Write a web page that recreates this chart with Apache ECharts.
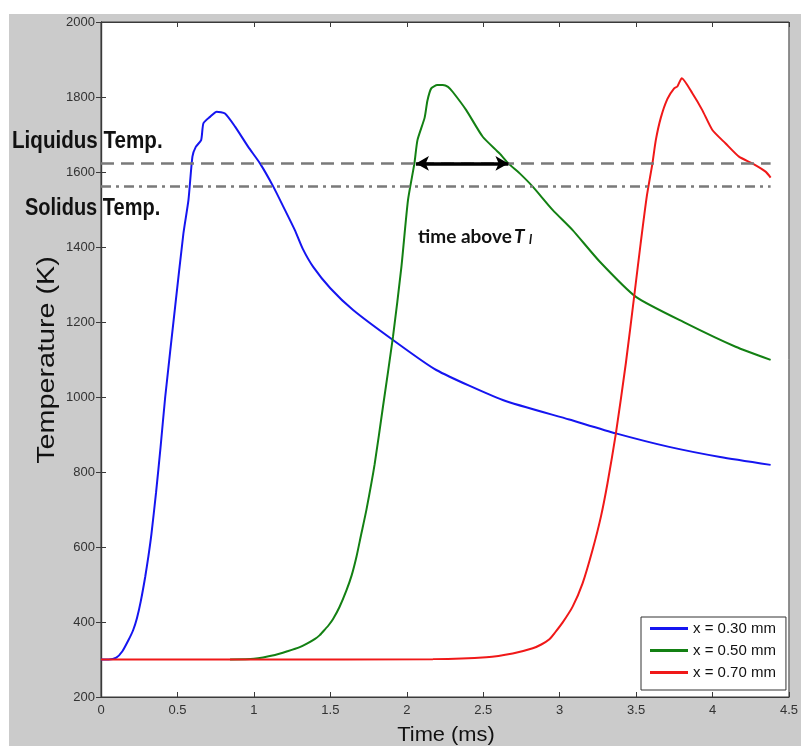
<!DOCTYPE html>
<html>
<head>
<meta charset="utf-8">
<script src="https://cdn.jsdelivr.net/npm/echarts@6/dist/echarts.min.js"></script>
<style>
html,body{margin:0;padding:0;background:#fff;}
#chart{width:801px;height:746px;}
</style>
</head>
<body>
<div id="chart"></div>
<script>
// ---- data ----
const seriesNames = ['x = 0.30 mm', 'x = 0.50 mm', 'x = 0.70 mm'];

const blueTime = [0, 0.05, 0.10, 0.14, 0.18, 0.21, 0.235, 0.26, 0.289, 0.31, 0.33, 0.36, 0.39, 0.42, 0.485, 0.539, 0.572, 0.598, 0.620, 0.655, 0.670, 0.713, 0.757, 0.811, 0.877, 0.963, 1.040, 1.127, 1.203, 1.268, 1.32, 1.388, 1.50, 1.649, 1.910, 2.193, 2.628, 3.063, 3.368, 3.716, 4.05, 4.38];
const blueTemp = [300, 300, 305, 322, 352, 378, 410, 455, 520, 575, 635, 745, 868, 1000, 1241, 1436, 1525, 1641, 1667, 1685, 1730, 1747, 1761, 1756, 1721, 1667, 1623, 1561, 1499, 1445, 1395, 1347, 1290, 1232, 1152, 1072, 992, 940, 903, 867, 840, 819];

const greenTime = [0.844, 1.0, 1.138, 1.22, 1.30, 1.35, 1.40, 1.431, 1.46, 1.49, 1.518, 1.56, 1.606, 1.64, 1.671, 1.70, 1.736, 1.79, 1.845, 1.910, 1.965, 2.008, 2.05, 2.07, 2.117, 2.135, 2.16, 2.20, 2.236, 2.27, 2.30, 2.389, 2.497, 2.606, 2.665, 2.737, 2.824, 2.954, 3.085, 3.26, 3.499, 3.825, 4.151, 4.38];
const greenTemp = [300, 302, 312, 322, 333, 343, 355, 365, 378, 392, 408, 440, 485, 525, 574, 630, 699, 821, 976, 1161, 1347, 1525, 1623, 1685, 1745, 1790, 1823, 1832, 1832, 1827, 1814, 1765, 1694, 1650, 1623, 1597, 1561, 1499, 1445, 1362, 1267, 1197, 1134, 1099];

const redTime = [0, 1.0, 2.171, 2.52, 2.693, 2.824, 2.88, 2.933, 2.97, 3.02, 3.085, 3.15, 3.215, 3.27, 3.313, 3.368, 3.433, 3.488, 3.53, 3.57, 3.607, 3.629, 3.662, 3.705, 3.749, 3.770, 3.799, 3.868, 3.933, 3.999, 4.086, 4.173, 4.26, 4.347, 4.38];
const redTemp = [300, 300, 301, 306, 316, 330, 340, 354, 372, 399, 441, 503, 592, 681, 770, 903, 1090, 1270, 1410, 1535, 1623, 1685, 1745, 1795, 1823, 1828, 1850, 1810, 1765, 1712, 1676, 1641, 1623, 1601, 1585];

const liquidusTemp = 1623;
const solidusTemp = 1563;
const refLineTimeRange = [0, 4.38];
const arrowTimeRange = [2.06, 2.665];

const xTicks = {min: 0, max: 4.5, interval: 0.5};
const yTicks = {min: 200, max: 2000, interval: 200};

const colors = ['#1515f0', '#138013', '#f01818'];

// ---- build ----
function zip(a, b) { return a.map((v, i) => [v, b[i]]); }

const tickFont = "'Liberation Sans', Arial, sans-serif";
const chart = echarts.init(document.getElementById('chart'), null, {renderer: 'canvas'});

const axisCommon = {
  axisLine: {show: true, lineStyle: {color: '#3a3a3a', width: 1.2}},
  axisTick: {show: true, inside: true, length: 5, lineStyle: {color: '#3a3a3a', width: 1}},
  splitLine: {show: false}
};

const lineSeries = (i, t, T) => ({
  name: seriesNames[i], type: 'line', data: zip(t, T), showSymbol: false, symbol: 'none',
  smooth: 0.2, lineStyle: {width: 2, color: colors[i]}, itemStyle: {color: colors[i]}, z: 3
});

const option = {
  backgroundColor: '#ffffff',
  animation: false,
  color: colors,
  graphic: [
    {type: 'rect', z: -10, shape: {x: 9, y: 14, width: 792, height: 732}, style: {fill: '#cbcbcb'}},
    {type: 'text', z: 100, x: 48, y: 360, rotation: Math.PI / 2, scaleX: 1.25,
      style: {text: 'Temperature (K)', font: '23px "Liberation Sans", Arial, sans-serif', fill: '#111', textAlign: 'center', textVerticalAlign: 'middle'}},
    {type: 'text', z: 100, x: 446, y: 735, scaleX: 1.04,
      style: {text: 'Time (ms)', font: '21px "Liberation Sans", Arial, sans-serif', fill: '#111', textAlign: 'center', textVerticalAlign: 'middle'}},
    {type: 'text', z: 100, x: 12, y: 142, scaleX: 1.03, scaleY: 1.15,
      style: {text: 'Liquidus Temp.', font: 'bold 20px "Liberation Sans", Arial, sans-serif', fill: '#111', textAlign: 'left', textVerticalAlign: 'middle'}},
    {type: 'text', z: 100, x: 25, y: 209, scaleY: 1.15,
      style: {text: 'Solidus Temp.', font: 'bold 20px "Liberation Sans", Arial, sans-serif', fill: '#111', textAlign: 'left', textVerticalAlign: 'middle'}},
    {type: 'text', z: 100, x: 418, y: 227,
      style: {text: 'time above', font: 'bold 19px Lato, "Open Sans", sans-serif', fill: '#111', textAlign: 'left', textVerticalAlign: 'alphabetic'}},
    {type: 'text', z: 100, x: 514, y: 227,
      style: {text: 'T', font: 'italic bold 19px Lato, "Open Sans", sans-serif', fill: '#111', textAlign: 'left', textVerticalAlign: 'alphabetic'}},
    {type: 'text', z: 100, x: 529, y: 233,
      style: {text: 'l', font: 'italic bold 13px Lato, "Open Sans", sans-serif', fill: '#111', textAlign: 'left', textVerticalAlign: 'alphabetic'}}
  ],
  grid: {left: 101, right: 11, top: 22, bottom: 49, show: true, backgroundColor: '#ffffff', borderColor: '#3a3a3a', borderWidth: 1},
  xAxis: [
    Object.assign({type: 'value', position: 'bottom', min: xTicks.min, max: xTicks.max, interval: xTicks.interval,
      axisLabel: {show: true, margin: 7, fontSize: 13, fontFamily: tickFont, color: '#333'}}, axisCommon),
    Object.assign({type: 'value', position: 'top', min: xTicks.min, max: xTicks.max, interval: xTicks.interval,
      axisLabel: {show: false}}, axisCommon)
  ],
  yAxis: [
    Object.assign({type: 'value', position: 'left', min: yTicks.min, max: yTicks.max, interval: yTicks.interval,
      axisLabel: {show: true, margin: 6, fontSize: 13, fontFamily: tickFont, color: '#333', formatter: v => String(v)}}, axisCommon),
    Object.assign({type: 'value', position: 'right', min: yTicks.min, max: yTicks.max, interval: yTicks.interval,
      axisLabel: {show: false}}, axisCommon)
  ],
  legend: {
    data: seriesNames,
    orient: 'vertical',
    left: 641, top: 617,
    backgroundColor: '#ffffff',
    borderColor: '#333', borderWidth: 1, borderRadius: 0,
    padding: [4, 10, 10, 9],
    icon: 'rect',
    itemWidth: 38, itemHeight: 3, itemGap: 7,
    textStyle: {fontSize: 15, fontFamily: tickFont, color: '#111'}
  },
  series: [
    lineSeries(0, blueTime, blueTemp),
    lineSeries(1, greenTime, greenTemp),
    lineSeries(2, redTime, redTemp),
    {name: 'refs', type: 'line', data: [], silent: true, z: 4,
      markLine: {
        silent: true, animation: false,
        label: {show: false},
        data: [
          [{coord: [refLineTimeRange[0], liquidusTemp], symbol: 'none', lineStyle: {color: '#7a7a7a', width: 2.5, type: [13, 7]}},
           {coord: [refLineTimeRange[1], liquidusTemp], symbol: 'none'}],
          [{coord: [refLineTimeRange[0], solidusTemp], symbol: 'none', lineStyle: {color: '#7a7a7a', width: 2.5, type: [10, 5, 3, 5]}},
           {coord: [refLineTimeRange[1], solidusTemp], symbol: 'none'}],
          [{coord: [arrowTimeRange[0], liquidusTemp], symbol: 'arrow', symbolSize: [11, 13], lineStyle: {color: '#000', width: 3.5, type: 'solid'}, itemStyle: {color: '#000'}},
           {coord: [arrowTimeRange[1], liquidusTemp], symbol: 'arrow', symbolSize: [11, 13]}]
        ]
      }}
  ]
};
chart.setOption(option);
</script>
</body>
</html>
